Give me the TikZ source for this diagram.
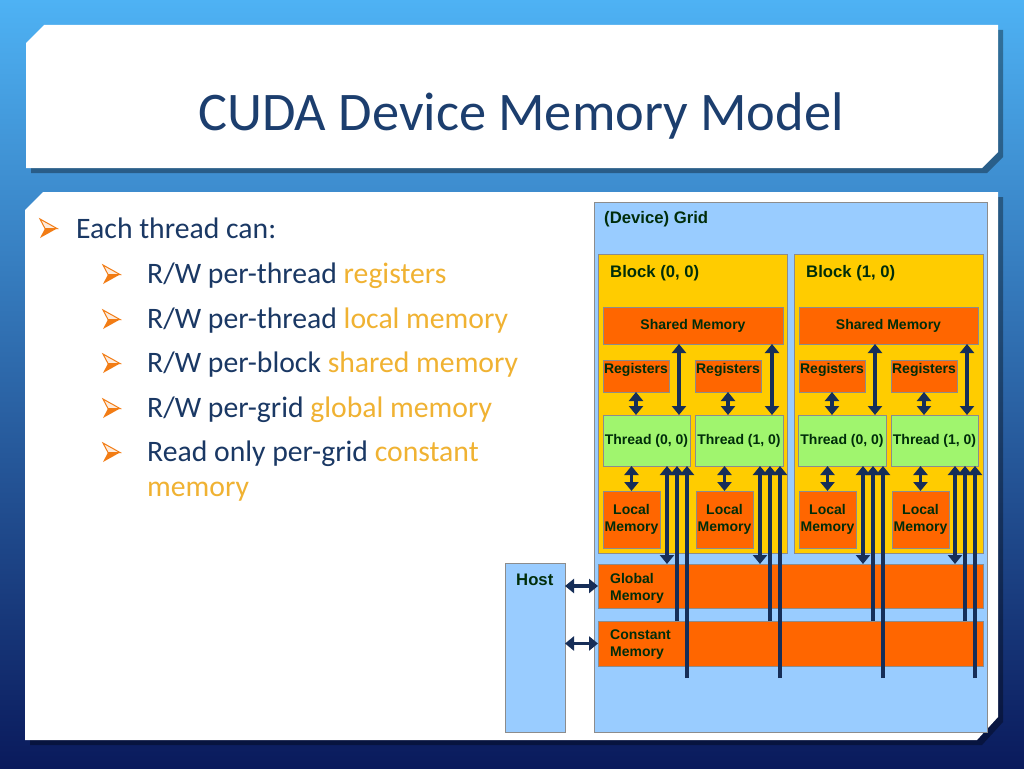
\documentclass[tikz,border=0pt]{standalone}
\usepackage{fontspec}
\setmainfont{Carlito}
\newfontfamily\arialfont{Liberation Sans}
\usetikzlibrary{arrows.meta,calc}
\definecolor{bgtop}{RGB}{78,178,244}
\definecolor{bgmid}{RGB}{38,112,205}
\definecolor{bgbot}{RGB}{10,26,92}
\definecolor{titleblue}{RGB}{28,62,110}
\definecolor{bodyblue}{RGB}{26,56,100}
\definecolor{hl}{RGB}{240,178,50}
\definecolor{bulorange}{RGB}{242,124,20}
\definecolor{gridblue}{RGB}{153,204,255}
\definecolor{gold}{RGB}{255,204,0}
\definecolor{memorange}{RGB}{255,102,0}
\definecolor{thgreen}{RGB}{160,245,110}
\definecolor{boxgray}{RGB}{140,140,140}
\definecolor{lbltext}{RGB}{0,45,10}
\definecolor{navy}{RGB}{22,46,88}
\tikzset{
  box/.style={draw=boxgray, line width=0.7pt, inner sep=0pt, outer sep=0pt, anchor=north west},
  lbl/.style={font=\arialfont\bfseries\fontsize{14}{17}\selectfont, text=lbltext, align=center},
  hdr/.style={font=\arialfont\bfseries\fontsize{16.7}{20}\selectfont, text=lbltext, inner sep=0pt},
  bodytxt/.style={font=\fontsize{29.7}{34}\selectfont, text=bodyblue, inner sep=0pt, anchor=base west},
  dbl/.style={draw=navy, line width=3.2pt, {Triangle[width=14pt,length=9pt]}-{Triangle[width=14pt,length=9pt]}},
  uparr/.style={draw=navy, line width=3.2pt, -{Triangle[width=14pt,length=9pt]}},
  bulletpic/.pic={
    \fill[bulorange] (5,9.5) -- (17,9.5) -- (0,19) -- cycle;
    \draw[bulorange, line width=1pt, line join=miter, fill=bulorange!15] (0,0) -- (17,9.5) -- (5,9.5) -- cycle;
  }
}
\begin{document}
\begin{tikzpicture}[x=1pt,y=-1pt]
\useasboundingbox (0,0) rectangle (1024,768);
\shade[top color=bgtop, middle color=bgmid, bottom color=bgbot] (0,0) rectangle (1024,768);
% shadows
\fill[black, opacity=0.35, shift={(5,5)}] (26,43) -- (44,25) -- (998,25) -- (998,152) -- (982,168) -- (26,168) -- cycle;
\fill[black, opacity=0.35, shift={(5,5)}] (25,210) -- (43,192) -- (998,192) -- (998,717) -- (977,740) -- (25,740) -- cycle;
% panels
\fill[white] (26,43) -- (44,25) -- (998,25) -- (998,152) -- (982,168) -- (26,168) -- cycle;
\fill[white] (25,210) -- (43,192) -- (998,192) -- (998,717) -- (977,740) -- (25,740) -- cycle;
% title
\node[anchor=base, font=\fontsize{54.4}{60}\selectfont, text=titleblue, inner sep=0pt] (title) at (521,130) {CUDA Device Memory Model};
% bullets
\pic at (40,219) {bulletpic};
\pic at (103,265) {bulletpic};
\pic at (103,310) {bulletpic};
\pic at (103,354) {bulletpic};
\pic at (103,399) {bulletpic};
\pic at (103,443) {bulletpic};
\node[bodytxt] (b0) at (76,238) {Each thread can:};
\node[bodytxt] (b1) at (147,283) {R/W per-thread \textcolor{hl}{registers}};
\node[bodytxt] (b2) at (147,328) {R/W per-thread \textcolor{hl}{local memory}};
\node[bodytxt] (b3) at (147,372) {R/W per-block \textcolor{hl}{shared memory}};
\node[bodytxt] (b4) at (147,417) {R/W per-grid \textcolor{hl}{global memory}};
\node[bodytxt] (b5) at (147,461) {Read only per-grid \textcolor{hl}{constant}};
\node[bodytxt] (b6) at (147,496) {\textcolor{hl}{memory}};
% diagram boxes
\node[box, fill=gridblue, minimum width=393pt, minimum height=530pt] (grid) at (594,202) {};
\node[hdr, anchor=base west] (gridt) at (604,223) {(Device) Grid};
\node[box, fill=gridblue, minimum width=60pt, minimum height=169pt] (host) at (505,563) {};
\node[hdr, anchor=base west] (hostt) at (516,585) {Host};
\node[box, fill=gold, minimum width=189pt, minimum height=299pt] (blk0) at (598,254) {};
\node[box, fill=gold, minimum width=189pt, minimum height=299pt] (blk1) at (794,254) {};
\node[hdr, anchor=base west] (blk0t) at (610,277) {Block (0, 0)};
\node[hdr, anchor=base west] (blk1t) at (806,277) {Block (1, 0)};
\node[box, fill=memorange, minimum width=180pt, minimum height=37pt, lbl] (sh0) at (603,307) {Shared Memory};
\node[box, fill=memorange, minimum width=179pt, minimum height=37pt, lbl] (sh1) at (799,307) {Shared Memory};
\foreach \n/\x in {reg00/603, reg01/695, reg10/799, reg11/891}{
  \node[box, fill=memorange, minimum width=66pt, minimum height=32pt] (\n) at (\x,360) {};
  \node[lbl, anchor=base, inner sep=0pt] (\n t) at ($(\n.north)+(0,13)$) {Registers};
}
\node[box, fill=thgreen, minimum width=87pt, minimum height=51pt, lbl] (th00) at (603,415) {Thread (0, 0)};
\node[box, fill=thgreen, minimum width=88pt, minimum height=51pt, lbl] (th01) at (695,415) {Thread (1, 0)};
\node[box, fill=thgreen, minimum width=88pt, minimum height=51pt, lbl] (th10) at (798,415) {Thread (0, 0)};
\node[box, fill=thgreen, minimum width=87pt, minimum height=51pt, lbl] (th11) at (891,415) {Thread (1, 0)};
\foreach \n/\x in {loc00/603, loc01/696, loc10/799, loc11/892}{
  \node[box, fill=memorange, minimum width=57pt, minimum height=57pt, lbl] (\n) at (\x,491) {Local\\Memory};
}
\node[box, fill=memorange, minimum width=385pt, minimum height=44pt] (glob) at (598,564) {};
\node[lbl, anchor=north west, align=left, inner sep=0pt] (globt) at (610,573) {Global\\Memory};
\node[box, fill=memorange, minimum width=385pt, minimum height=45pt] (const) at (598,621) {};
\node[lbl, anchor=north west, align=left, inner sep=0pt] (constt) at (610,630) {Constant\\Memory};
\coordinate (xend) at (0,678);
% arrows
\foreach \b in {0,1}{
  \foreach \t in {0,1}{
    \draw[dbl] (reg\b\t.south) -- (reg\b\t.south |- th\b\t.north);
    \draw[dbl] (loc\b\t.north) -- (loc\b\t.north |- th\b\t.south);
    \coordinate (s\b\t) at ($(th\b\t.north east)+(-11,0)$);
    \draw[dbl] (s\b\t |- sh\b.south) -- (s\b\t);
    \coordinate (g\b\t) at ($(th\b\t.south east)+(-23,0)$);
    \draw[dbl] (g\b\t) -- (g\b\t |- glob.north);
    \coordinate (c\b\t) at ($(th\b\t.south east)+(-13,0)$);
    \draw[uparr] (c\b\t |- const.north) -- (c\b\t);
    \coordinate (x\b\t) at ($(th\b\t.south east)+(-3,0)$);
    \draw[uparr] (x\b\t |- xend) -- (x\b\t);
  }
}
\draw[dbl] (host.east |- glob.west) -- (glob.west);
\draw[dbl] (host.east |- const.west) -- (const.west);
\end{tikzpicture}
\end{document}
